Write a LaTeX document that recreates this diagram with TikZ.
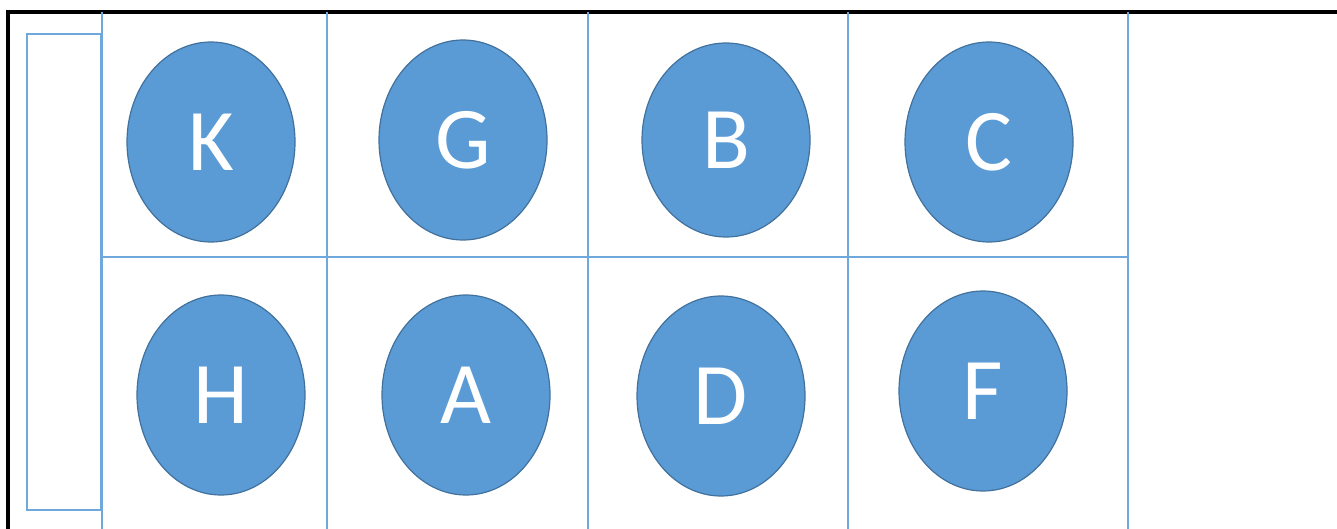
\documentclass[tikz,border=0pt]{standalone}
\usepackage{fontspec}
\setmainfont{Carlito}
\usetikzlibrary{positioning,shapes.geometric}
\definecolor{cazul}{HTML}{5B9BD5}
\definecolor{cborde}{HTML}{41719C}
\definecolor{clinea}{HTML}{6FA8DC}
\tikzset{
  pozo/.style={ellipse, draw=cborde, line width=0.6pt, fill=cazul,
    minimum width=84pt, minimum height=100pt, inner sep=0pt,
    text=white, font=\fontsize{44}{44}\selectfont},
  linea/.style={draw=clinea, line width=1.3pt},
  marco/.style={draw=black, line width=1.6pt},
}
\begin{document}
\begin{tikzpicture}[x=0.5pt, y=-0.5pt]
  \useasboundingbox (0,0) rectangle (1337,529);
  % marco exterior
  \draw[marco] (8,529) -- (8,12) -- (1337,12);
  % rejilla
  \draw[linea] (27,34) rectangle (101,510);
  \foreach \x in {102,327,588,848,1128}
    \draw[linea] (\x,12) -- (\x,529);
  \draw[linea] (102,257) -- (1128,257);
  % fila superior
  \node[pozo] (k) at (211,142) {K};
  \node[pozo] (g) at (463,140) {G};
  \node[pozo, minimum height=97pt] (b) at (726,140) {B};
  \node[pozo] (c) at (989,142) {C};
  % fila inferior
  \node[pozo] (h) at (221,395) {H};
  \node[pozo] (a) at (466,395) {A};
  \node[pozo] (d) at (721,396) {D};
  \node[pozo] (f) at (983,391) {F};
\end{tikzpicture}
\end{document}
